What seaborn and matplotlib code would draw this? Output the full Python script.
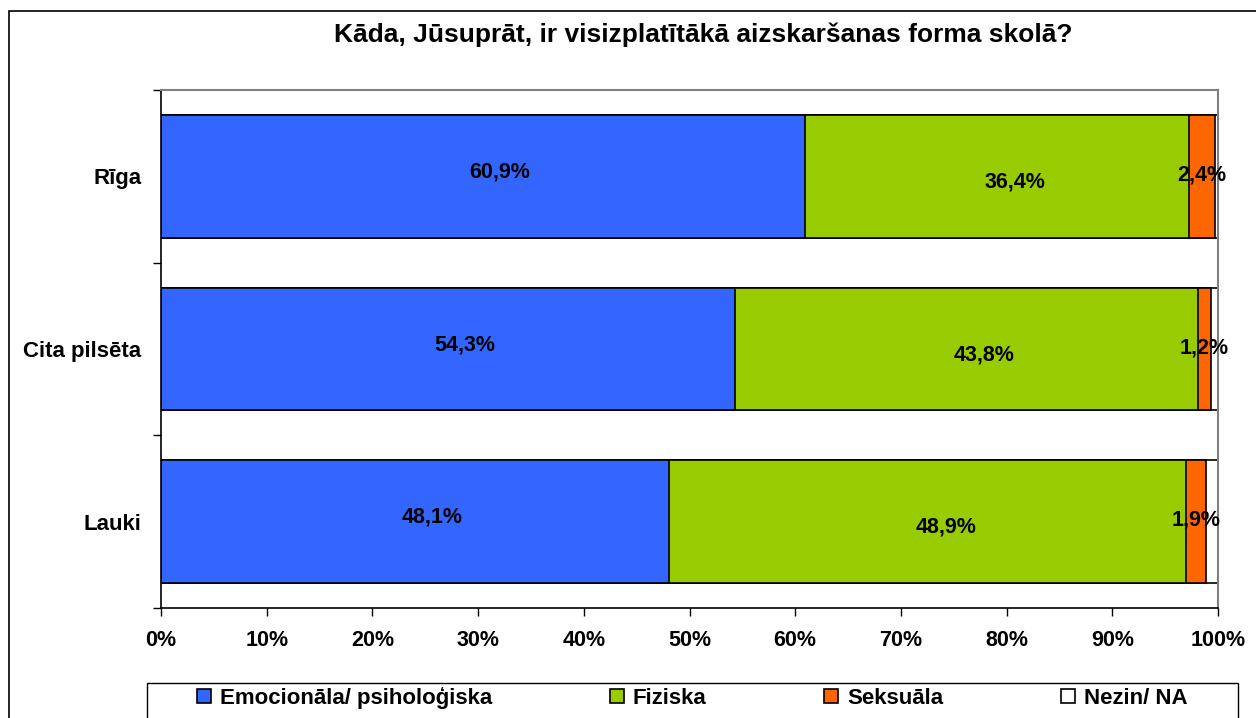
"""Stacked 100% horizontal bars: most common form of abuse at school, by region."""

import matplotlib
import pandas as pd
import seaborn as sns

matplotlib.use("Agg")
import matplotlib.pyplot as plt
from matplotlib.patches import Rectangle

TITLE = "Kāda, Jūsuprāt, ir visizplatītākā aizskaršanas forma skolā?"
REGIONS = ["Rīga", "Cita pilsēta", "Lauki"]
SERIES = ["Emocionāla/ psiholoģiska", "Fiziska", "Seksuāla", "Nezin/ NA"]
EMOCIONALA = [60.9, 54.3, 48.1]
FIZISKA = [36.4, 43.8, 48.9]
SEKSUALA = [2.4, 1.2, 1.9]
NEZIN = [0.3, 0.7, 1.1]
X_TICKS = [0, 10, 20, 30, 40, 50, 60, 70, 80, 90, 100]

COLORS = ["#3366FF", "#99CC00", "#FF6600", "#FFFFFF"]
# Excel put the big labels a little off centre
LABEL_OFFSETS = [(12, 3), (13, -4), (0, 1)]

W, H = 1256, 718


def pct(v):
    return f"{v:.1f}".replace(".", ",") + "%"


def main():
    sns.set_theme(style="white")
    plt.rcParams["font.family"] = ["Liberation Sans", "DejaVu Sans"]
    plt.rcParams["font.weight"] = "bold"
    for key in ("text.color", "xtick.color", "ytick.color", "axes.labelcolor"):
        plt.rcParams[key] = "black"

    values = [EMOCIONALA, FIZISKA, SEKSUALA, NEZIN]
    df = pd.DataFrame({"Region": REGIONS})
    running = [0.0] * len(REGIONS)
    for name, vals in zip(SERIES, values):
        running = [r + v for r, v in zip(running, vals)]
        df[name] = running

    fig = plt.figure(figsize=(W / 100, H / 100), dpi=100)
    ax = fig.add_axes([161 / W, 1 - 608 / H, (1218 - 161) / W, (608 - 90) / H])

    # draw cumulative bars from the longest down so each segment shows
    for name, color in reversed(list(zip(SERIES, COLORS))):
        sns.barplot(data=df, x=name, y="Region", orient="h", color=color,
                    saturation=1, edgecolor="black", linewidth=1.2,
                    width=0.71, ax=ax)

    for i, (name, vals) in enumerate(zip(SERIES[:3], values[:3])):
        dx, dy = LABEL_OFFSETS[i]
        for j, v in enumerate(vals):
            center = df[name][j] - v / 2
            ax.annotate(pct(v), (center, j), xytext=(dx, dy),
                        textcoords="offset points", ha="center", va="center",
                        fontsize=15.5, fontweight="bold", color="black")

    ax.set_xlim(0, 100)
    ax.set_ylim(2.5, -0.5)
    ax.set_xlabel("")
    ax.set_ylabel("")
    ax.set_xticks(X_TICKS)
    ax.set_xticklabels([f"{t}%" for t in X_TICKS], fontsize=15.5, fontweight="bold")
    ax.set_yticks(range(len(REGIONS)))
    ax.set_yticklabels(REGIONS, fontsize=16, fontweight="bold")
    ax.set_yticks([-0.5, 0.5, 1.5, 2.5], minor=True)
    ax.tick_params(axis="x", which="major", length=6, width=1, color="black",
                   direction="out", bottom=True, pad=10)
    ax.tick_params(axis="y", which="major", length=0, pad=14)
    ax.tick_params(axis="y", which="minor", length=6, width=1, color="black",
                   direction="out", left=True)

    for side in ("left", "bottom"):
        ax.spines[side].set_color("black")
        ax.spines[side].set_linewidth(1.2)
    for side in ("top", "right"):
        ax.spines[side].set_color("#808080")
        ax.spines[side].set_linewidth(1.5)

    fig.text(703 / W, 1 - 35 / H, TITLE, ha="center", va="center",
             fontsize=19, fontweight="bold")

    handles = [Rectangle((0, 0), 1, 1, facecolor=c, edgecolor="black", linewidth=1.2)
               for c in COLORS]
    fig.legend(handles, SERIES, loc="center", bbox_to_anchor=(692 / W, 1 - 698 / H),
               ncol=4, frameon=False, handlelength=0.63, handleheight=0.63,
               handletextpad=0.4, columnspacing=5.3,
               prop={"weight": "bold", "size": 16})

    # legend box runs off the bottom, and the outer chart border
    fig.patches.append(Rectangle((147 / W, -0.05), (1238 - 147) / W, (718 - 683) / H + 0.05,
                                 transform=fig.transFigure, fill=False,
                                 edgecolor="black", linewidth=1))
    fig.patches.append(Rectangle((9 / W, -0.05), 1.2, 1 - 11 / H + 0.05,
                                 transform=fig.transFigure, fill=False,
                                 edgecolor="black", linewidth=1.2))

    fig.savefig("out.png", dpi=100)
    plt.close(fig)


if __name__ == "__main__":
    main()
